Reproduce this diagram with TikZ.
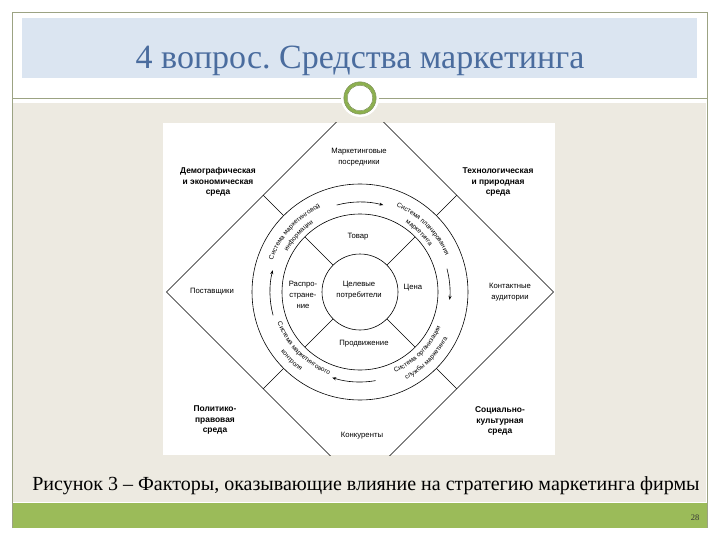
\documentclass[tikz,border=0pt]{standalone}
\usepackage{fontspec}
\setmainfont{Liberation Serif}
\newfontfamily\dsans{Liberation Sans}
\usetikzlibrary{decorations.text,arrows.meta}
\frenchspacing
\definecolor{frameline}{HTML}{9CA383}
\definecolor{titlebg}{HTML}{DBE5F1}
\definecolor{titlefg}{HTML}{4A6C9E}
\definecolor{beige}{HTML}{EDEAE1}
\definecolor{barGreen}{HTML}{9BBB59}
\definecolor{ornGreen}{HTML}{8DB04F}
\newcommand{\curvefont}{\dsans\fontsize{6.5}{7}\selectfont}
\begin{document}
\begin{tikzpicture}[x=1pt,y=1pt,
  lbl/.style={font=\dsans\fontsize{7.7}{10.8}\selectfont, align=center, inner sep=0pt},
  blbl/.style={font=\dsans\bfseries\fontsize{8.4}{10.8}\selectfont, align=center, inner sep=0pt},
  dline/.style={line width=0.6pt, draw=black},
  cyctext/.style={decorate, decoration={text along path, text align=center, text={|\curvefont|#1}}},
  cycarrow/.style={dline, -{Stealth[length=4pt,width=3pt]}}
]
\useasboundingbox (0,0) rectangle (720,-540);
\fill[white] (0,0) rectangle (720,-540);
% slide frame
\fill[titlebg] (22,-18) rectangle (697,-78);
\fill[beige] (13,-103) rectangle (706,-502);
\fill[barGreen] (12,-503) rectangle (707,-528);
\draw[white, line width=1pt] (13,-502) -- (706,-502);
\draw[frameline, line width=0.8pt] (12,-528) -- (12,-12) -- (707,-12) -- (707,-528);
\draw[frameline, line width=0.8pt] (12,-98) -- (707,-98);
% ornament
\fill[white] (360,-98) circle[radius=19];
\draw[ornGreen, line width=3pt] (360,-98) circle[radius=14.5];
\draw[ornGreen!70!black, line width=0.4pt] (360,-98) circle[radius=12.8];
\draw[ornGreen!70!black, line width=0.4pt] (360,-98) circle[radius=16.2];
% title
\node[anchor=base, text=titlefg, font=\fontsize{34}{38}\selectfont, inner sep=0pt] (title) at (360,-69) {4 вопрос. Средства маркетинга};
% caption
\node[anchor=base, font=\fontsize{20}{24}\selectfont, inner sep=0pt] (caption) at (366,-490) {Рисунок 3 – Факторы, оказывающие влияние на стратегию маркетинга фирмы};
\node[font=\fontsize{8.5}{10}\selectfont, text=black!80, inner sep=0pt] (pagenum) at (695,-518) {28};

% diagram background
\fill[white] (163,-123) rectangle (555,-455);
\coordinate (C) at (360,-292);
\begin{scope}
  \clip (163,-123) rectangle (555,-455);
  \draw[dline] (166.5,-292) -- (360,-98.5) -- (553.5,-292) -- (360,-485.5) -- cycle;
\end{scope}
\draw[dline] (C) circle[radius=108];
\draw[dline] (C) circle[radius=78];
\draw[dline] (C) circle[radius=38];
\foreach \a in {45,135,225,315} {
  \draw[dline] ([shift={(\a:38)}]C) -- ([shift={(\a:78)}]C);
  \draw[dline] ([shift={(\a:108)}]C) -- ([shift={(\a:136.8)}]C);
}
% circulation arrows
\draw[cycarrow] ([shift={(105:90)}]C) arc[start angle=105, end angle=75, radius=90];
\draw[cycarrow] ([shift={(15:90)}]C) arc[start angle=15, end angle=-5, radius=90];
\draw[cycarrow] ([shift={(-80:90)}]C) arc[start angle=-80, end angle=-108, radius=90];
\draw[cycarrow] ([shift={(195:90)}]C) arc[start angle=195, end angle=166, radius=90];
% curved texts
\path[cyctext={Система маркетинговой}] ([shift={(180:93)}]C) arc[start angle=180, end angle=95, radius=93];
\path[cyctext={информации}] ([shift={(180:83)}]C) arc[start angle=180, end angle=95, radius=83];
\path[cyctext={Система планирования}] ([shift={(90:93)}]C) arc[start angle=90, end angle=0, radius=93];
\path[cyctext={маркетинга}] ([shift={(90:83)}]C) arc[start angle=90, end angle=0, radius=83];
\path[cyctext={Система организации}] ([shift={(-90:88)}]C) arc[start angle=-90, end angle=0, radius=88];
\path[cyctext={службы маркетинга}] ([shift={(-90:99)}]C) arc[start angle=-90, end angle=0, radius=99];
\path[cyctext={Система маркетингового}] ([shift={(180:88)}]C) arc[start angle=180, end angle=270, radius=88];
\path[cyctext={контроля}] ([shift={(180:99)}]C) arc[start angle=180, end angle=270, radius=99];
% labels
\node[lbl] (posr) at (359,-157) {Маркетинговые\\посредники};
\node[blbl] (dem) at (218,-182) {Демографическая\\и экономическая\\среда};
\node[blbl] (tech) at (498,-182) {Технологическая\\и природная\\среда};
\node[lbl] (post) at (212,-292) {Поставщики};
\node[lbl] (kont) at (510,-292) {Контактные\\аудитории};
\node[blbl] (polit) at (215,-420) {Политико-\\правовая\\среда};
\node[blbl] (soc) at (500,-421) {Социально-\\культурная\\среда};
\node[lbl] (konk) at (362,-436) {Конкуренты};
\node[lbl] (tovar) at (358,-237) {Товар};
\node[lbl] (cena) at (413,-288) {Цена};
\node[lbl] (prod) at (364,-344) {Продвижение};
\node[lbl] (rasp) at (303,-295) {Распро-\\стране-\\ние};
\node[lbl] (cel) at (359,-290) {Целевые\\потребители};
\end{tikzpicture}
\end{document}
